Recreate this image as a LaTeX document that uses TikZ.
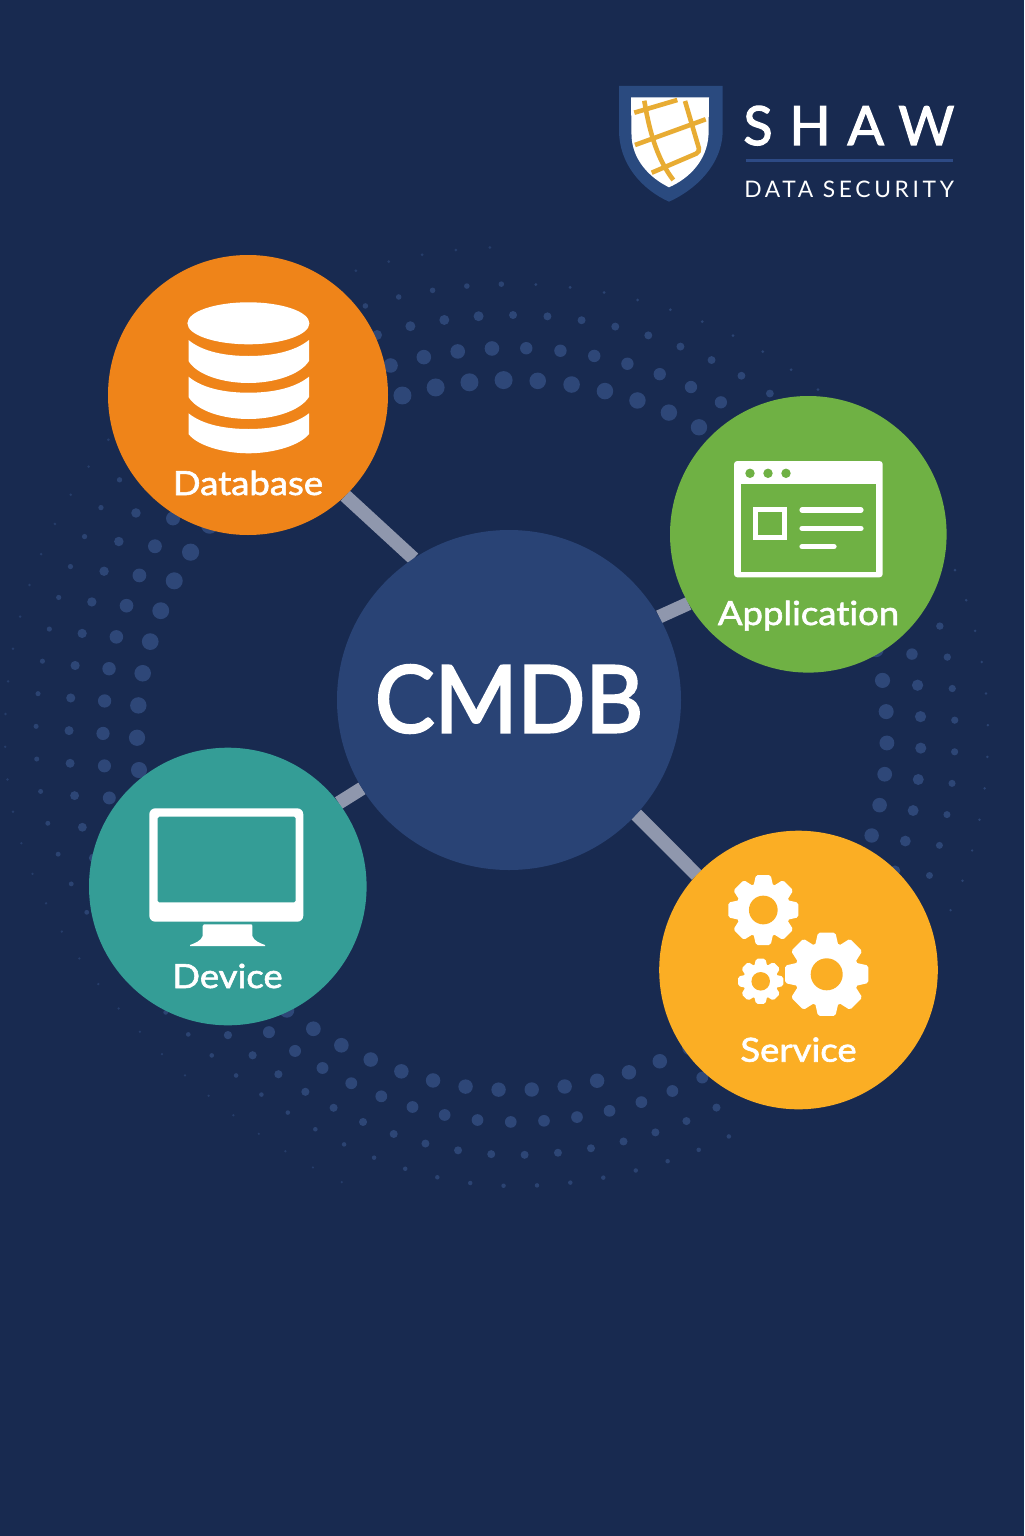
\documentclass[tikz,border=0pt]{standalone}
\usepackage{fontspec}
\usetikzlibrary{backgrounds,shapes.geometric}
\setmainfont{Lato}
\newfontfamily\medfont[FakeBold=2.2]{Lato}
\newfontfamily\secfont{Lato}
\newfontfamily\labfont[FakeBold=1.8,FakeStretch=1.1,Ligatures={NoCommon,NoRare}]{Lato}
\newfontfamily\cmdbfont[FakeBold=2.6,FakeStretch=0.96]{Lato}
\definecolor{bgnavy}{HTML}{182A50}
\definecolor{cmdbblue}{HTML}{294375}
\definecolor{dotblue}{HTML}{2E4778}
\definecolor{orangec}{HTML}{EF8419}
\definecolor{greenc}{HTML}{6FB144}
\definecolor{tealc}{HTML}{349D96}
\definecolor{amberc}{HTML}{FBAE24}
\definecolor{linkgrey}{HTML}{8F97AD}
\definecolor{goldc}{HTML}{E8AC33}
\definecolor{shieldblue}{HTML}{2A4A7F}
\definecolor{rulec}{HTML}{2D4A85}
\tikzset{
  hub/.style={circle,draw=none,inner sep=0pt,outer sep=0pt,minimum size=#1},
  lab/.style={text=white,anchor=base,inner sep=0pt,font=\labfont\fontsize{16.6}{18}\selectfont},
  link/.style={draw=linkgrey,line width=6.8pt},
}
% gear: x, y, outer radius, hole radius, hole colour
\newcommand{\geardraw}[5]{%
  \begin{scope}[shift={(#1,#2)},scale=#3]
    \fill[white] (0,0) circle (0.78);
    \foreach \a in {0,45,...,315}{
      \fill[white,rotate=\a,rounded corners=0.9pt] (-0.3,0.6) -- (-0.21,1) -- (0.21,1) -- (0.3,0.6) -- cycle;
    }
    \fill[#5] (0,0) circle (#4);
  \end{scope}}
% one banded slice of the database icon, top edge at y=#1
\newcommand{\dbslice}[4]{%
  \fill[white] (188.5,#1) .. controls (203,#2-4) and (226,#2) .. (248.5,#2)
    .. controls (271,#2) and (294,#2-4) .. (309,#1) -- (309,#3)
    .. controls (300,#4-8) and (274,#4) .. (248.5,#4)
    .. controls (223,#4) and (197,#4-8) .. (188.5,#3) -- cycle;}
\begin{document}
\begin{tikzpicture}[x=0.5pt,y=-0.5pt]
\useasboundingbox (0,0) rectangle (1024,1536);
% hubs
\node[ellipse,draw=none,inner sep=0pt,outer sep=0pt,minimum width=172pt,minimum height=170pt,fill=cmdbblue] (cmdb) at (509,700) {};
\node[text=white,inner sep=0pt] (cmdblabel) at (509,699) {\cmdbfont\fontsize{46.5}{50}\selectfont CMDB};
\node[hub=140pt,fill=orangec] (db) at (248,395) {};
\node[hub=138.3pt,fill=greenc] (app) at (808.3,534.3) {};
\node[hub=138.8pt,fill=tealc] (dev) at (227.8,886.5) {};
\node[hub=139.3pt,fill=amberc] (svc) at (798.5,970) {};
% background, dots, connectors
\begin{pgfonlayer}{background}
\fill[bgnavy] (0,0) rectangle (1024,1536);
\foreach \rx/\ry/\N/\ph/\rad/\rf/\gl/\gh/\ll/\lh/\mix/\pinch in {
  375/355/70/91.4/9/0.92/16/58/303/338/100/0.02,
  409/387/76/92.9/7.3/0.85/16/54/303/338/100/0.03,
  443/420/82/90/5/0.8/16/52/303/338/95/0.04,
  476/451/88/91.4/2.8/0.55/23/49/300/335/85/0.05,
  507/488/95/92.6/1.5/1/0/92/250/360/65/0.05}{
  \foreach \k in {1,...,\N}{
    \pgfmathsetmacro\th{mod(\ph+\k*(360/\N),360)}
    \pgfmathtruncatemacro\vis{((\th>\gl && \th<\gh)||(\th>\ll && \th<\lh)) ? 0 : 1}
    \ifnum\vis=1
      \pgfmathsetmacro\rr{\rad*(0.9+0.1*sin(\th))*((\th<90||\th>300) ? \rf : 1)}
      \pgfmathsetmacro\ta{\th+0.75+1.25*sin(\th-135)}
      \pgfmathsetmacro\sh{1-((\th>180 && \th<270) ? \pinch*sin(2*(\th-180))*sin(2*(\th-180)) : 0)}
      \fill[dotblue!\mix!bgnavy] ({512+\sh*\rx*cos(\ta)},{735-\sh*\ry*sin(\ta)}) circle (\rr);
    \fi
  }
}
\draw[link] (db.-46.7) -- (cmdb.124.8);
\draw[link] (app.210.2) -- (cmdb.29);
\draw[link] (dev.37.1) -- (cmdb.211.1);
\draw[link] (svc.137) -- (cmdb.-42.9);
\end{pgfonlayer}
% database icon
\fill[white] (248.4,323.3) ellipse (61 and 21);
\dbslice{340}{356}{361}{383}
\dbslice{376.7}{392.7}{397}{419}
\dbslice{413.3}{429}{434}{453.3}
\node[lab] (dblabel) at (248,495) {Database};
% application icon
\fill[white,rounded corners=1.6pt] (734,461) rectangle (882.7,577.3);
\fill[greenc] (740.7,484) rectangle (876,572);
\foreach \cx in {750,768,786}{\fill[greenc] (\cx,473.3) circle (4.7);}
\draw[white,line width=2.6pt] (755.8,509.8) rectangle (784.2,537.5);
\draw[white,line width=2.6pt,line cap=round] (802,510) -- (861,510);
\draw[white,line width=2.6pt,line cap=round] (802,528.3) -- (861,528.3);
\draw[white,line width=2.6pt,line cap=round] (802,546.7) -- (834,546.7);
\node[lab] (applabel) at (808.5,625) {Application};
% device icon
\fill[white,rounded corners=3pt] (149.3,808.3) rectangle (303.3,921.7);
\fill[tealc,rounded corners=0.8pt] (157.7,816.7) -- (295.7,816.7) -- (295.7,902.3) -- (157.7,902.3) -- cycle;
\fill[white] (204,924.3) -- (251,924.3) .. controls (252.3,924.3) and (252.3,925) .. (252.3,926) -- (252.3,936)
  .. controls (254,941) and (260,943) .. (265,945) -- (265,946) -- (190,946) -- (190,945)
  .. controls (195,943) and (201,941) .. (202.7,936) -- (202.7,926) .. controls (202.7,925) and (203,924.3) .. (204,924.3) -- cycle;
\node[lab] (devlabel) at (227.5,988) {Device};
% service icon
\geardraw{763.3}{910}{35}{0.41}{amberc}
\geardraw{826.7}{974.3}{41.6}{0.385}{amberc}
\geardraw{760.7}{981.3}{22.6}{0.41}{amberc}
\node[lab] (svclabel) at (798.5,1061.7) {Service};
% logo
\fill[shieldblue] (619,86) -- (722.7,86) -- (722.7,130) .. controls (722.7,165) and (695,190) .. (669,201.7)
  .. controls (643,190) and (619,165) .. (619,130) -- cycle;
\fill[white] (631,97.3) -- (709,97.3) -- (708.5,135) .. controls (707,160) and (690,178) .. (669,187.3)
  .. controls (650,178) and (632,160) .. (631.5,135) -- cycle;
\begin{scope}[goldc,line width=2.3pt]
\draw (634.3,112.7) -- (677.3,100);
\draw (644.3,100.7) .. controls (650,135) and (658,160) .. (673.3,180);
\draw (635,145) -- (705.7,119.3);
\draw[rounded corners=2pt] (685,101) -- (700,152) -- (651.7,172.7);
\end{scope}
\node[text=white,anchor=base west,inner sep=0pt,font=\medfont\fontsize{27}{30}\selectfont\addfontfeature{LetterSpace=31}] (shaw) at (743,145) {SHAW};
\coordinate (rulel) at (745.7,160.3);
\coordinate (ruler) at (952.7,160.3);
\draw[rulec,line width=1.7pt] (rulel) -- (ruler);
\node[text=white,anchor=base west,inner sep=0pt,font=\secfont\fontsize{11.4}{13}\selectfont\addfontfeature{LetterSpace=16}] (sec) at (744,197.7) {DATA SECURITY};
\end{tikzpicture}
\end{document}
